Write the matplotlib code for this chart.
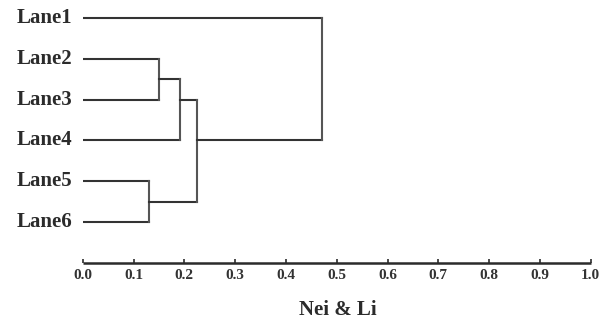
import matplotlib
matplotlib.use("Agg")
import matplotlib.pyplot as plt

# === Data ===
leaves = ["Lane1", "Lane2", "Lane3", "Lane4", "Lane5", "Lane6"]
# merges: (left cluster, right cluster, distance) -- clusters are lists of leaf indices
merges = [
    ([1], [2], 0.150),
    ([4], [5], 0.131),
    ([1, 2], [3], 0.192),
    ([1, 2, 3], [4, 5], 0.225),
    ([0], [1, 2, 3, 4, 5], 0.471),
]
ticks = [0.0, 0.1, 0.2, 0.3, 0.4, 0.5, 0.6, 0.7, 0.8, 0.9, 1.0]

plt.rcParams["font.family"] = ["Liberation Serif", "DejaVu Serif"]
plt.rcParams["font.weight"] = "bold"

W, H = 602, 324
fig = plt.figure(figsize=(W / 100, H / 100), dpi=100)
ax = fig.add_axes([82.7 / W, (H - 262.7) / H, 508 / W, 252.7 / H])

line_kw = dict(color="#333333", lw=1.5, solid_capstyle="projecting")

# height of each cluster (0 for leaves)
height = {tuple([i]): 0.0 for i in range(len(leaves))}
for a, b, d in merges:
    ya = sum(a) / len(a)
    yb = sum(b) / len(b)
    xa = height[tuple(a)]
    xb = height[tuple(b)]
    ax.plot([xa, d], [ya, ya], **line_kw)
    ax.plot([xb, d], [yb, yb], **line_kw)
    ax.plot([d, d], [ya, yb], color="#555555", lw=1.5, solid_capstyle="projecting")
    height[tuple(sorted(a + b))] = d

for i, name in enumerate(leaves):
    ax.text(-0.021, i, name, ha="right", va="center", fontsize=15,
            fontweight="bold", color="#2b2b2b")

ax.set_xlim(0, 1.0)
ax.set_ylim(6.0, -0.2)
for s in ["top", "right", "left"]:
    ax.spines[s].set_visible(False)
ax.spines["bottom"].set_linewidth(1.8)
ax.spines["bottom"].set_color("#2b2b2b")
ax.spines["bottom"].set_capstyle("butt")
ax.set_yticks([])
ax.set_xticks(ticks)
ax.set_xticklabels([f"{t:.1f}" for t in ticks], fontsize=11, fontweight="bold",
                   color="#333333")
ax.tick_params(axis="x", direction="in", length=3, width=1.2, pad=4.5,
               color="#2b2b2b")

fig.text(338 / W, 1 - 310 / H, "Nei & Li", ha="center", va="center",
         fontsize=15, fontweight="bold", color="#2b2b2b")

fig.savefig("out.png", dpi=100)
